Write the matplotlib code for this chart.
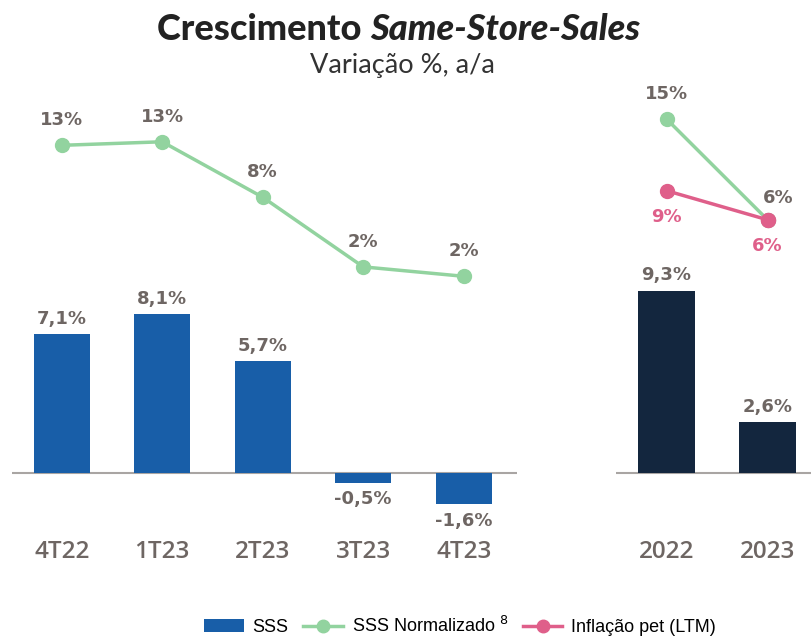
import matplotlib.pyplot as plt
from matplotlib.lines import Line2D
from matplotlib.patches import Patch

# Data
quarters = ["4T22", "1T23", "2T23", "3T23", "4T23"]
sss_q = [7.1, 8.1, 5.7, -0.5, -1.6]
sss_norm_q = [12.6, 12.9, 8.2, 2.3, 1.5]

years = ["2022", "2023"]
sss_y = [9.3, 2.6]
sss_norm_y = [15.0, 6.0]
infl_y = [8.6, 6.0]

BLUE = "#185ea8"
NAVY = "#13263e"
GREEN = "#92d39f"
PINK = "#df5f8a"
GRAY = "#6e6663"
AXIS = "#a9a5a3"

W, H = 811, 636
fig = plt.figure(figsize=(W / 100, H / 100), dpi=100)

def ax_rect(x0, x1, ytop, ybot):
    return [x0 / W, 1 - ybot / H, (x1 - x0) / W, (ybot - ytop) / H]

ytop, ybot = 80, 530
bar_scale = 19.6
base_y = 473
ylim_bar = (-(ybot - base_y) / bar_scale, (base_y - ytop) / bar_scale)

def style(ax):
    for s in ax.spines.values():
        s.set_visible(False)
    ax.set_yticks([])
    ax.tick_params(length=0)

TICK_KW = dict(fontsize=17.5, color=GRAY, fontweight="semibold", family="Open Sans")
LBL_KW = dict(fontsize=13, fontweight="bold")

# Left panel
axL = fig.add_axes(ax_rect(11.5, 517, ytop, ybot))
xq = list(range(len(quarters)))
axL.bar(xq, sss_q, width=0.56, color=BLUE, zorder=2)
axL.set_xlim(-0.5, 4.53)
axL.set_ylim(*ylim_bar)
axL.axhline(0, color=AXIS, lw=1.5, zorder=1)
style(axL)
axL.set_xticks(xq)
axL.set_xticklabels([])
for x, q in zip(xq, quarters):
    axL.annotate(q, (x, 0), xycoords=("data", "axes fraction"), xytext=(0, -16),
                 textcoords="offset points", ha="center", va="center", **TICK_KW)
for x, v in zip(xq, sss_q):
    off = 11 if v >= 0 else -12
    axL.annotate(f"{v:.1f}%".replace(".", ","), (x, v), xytext=(0, off),
                 textcoords="offset points", ha="center", va="center",
                 color=GRAY, **LBL_KW)

axL2 = axL.twinx()
z0, sc = 294, 11.8
axL2.set_ylim(-(ybot - z0) / sc, (z0 - ytop) / sc)
axL2.plot(xq, sss_norm_q, color=GREEN, lw=2.5, marker="o", ms=10, zorder=3)
style(axL2)
for x, v in zip(xq, sss_norm_q):
    axL2.annotate(f"{v:.0f}%", (x, v), xytext=(0, 18), textcoords="offset points",
                  ha="center", va="center", color=GRAY, **LBL_KW)

# Right panel
axR = fig.add_axes(ax_rect(616, 811, ytop, ybot))
xy = list(range(len(years)))
axR.bar(xy, sss_y, width=0.56, color=NAVY, zorder=2)
axR.set_xlim(-0.5, 1.43)
axR.set_ylim(*ylim_bar)
axR.axhline(0, color=AXIS, lw=1.5, zorder=1)
style(axR)
axR.set_xticks(xy)
axR.set_xticklabels([])
for x, q in zip(xy, years):
    axR.annotate(q, (x, 0), xycoords=("data", "axes fraction"), xytext=(0, -16),
                 textcoords="offset points", ha="center", va="center", **TICK_KW)
for x, v in zip(xy, sss_y):
    axR.annotate(f"{v:.1f}%".replace(".", ","), (x, v), xytext=(0, 11),
                 textcoords="offset points", ha="center", va="center",
                 color=GRAY, **LBL_KW)

axR2 = axR.twinx()
z0r, scr = 287, 11.2
axR2.set_ylim(-(ybot - z0r) / scr, (z0r - ytop) / scr)
axR2.plot(xy, infl_y, color=PINK, lw=2.5, marker="o", ms=10, zorder=3)
axR2.plot(xy, sss_norm_y, color=GREEN, lw=2.5, marker="o", ms=10, zorder=2)
axR2.plot(xy[1:], infl_y[1:], color=PINK, lw=0, marker="o", ms=10, zorder=4)
style(axR2)
axR2.annotate(f"{sss_norm_y[0]:.0f}%", (0, sss_norm_y[0]), xytext=(0, 18),
              textcoords="offset points", ha="center", va="center",
              color=GRAY, **LBL_KW)
axR2.annotate(f"{sss_norm_y[1]:.0f}%", (1, sss_norm_y[1]), xytext=(8, 16),
              textcoords="offset points", ha="center", va="center",
              color=GRAY, **LBL_KW)
for x, v in zip(xy, infl_y):
    axR2.annotate(f"{v:.0f}%", (x, v), xytext=(0, -19), textcoords="offset points",
                  ha="center", va="center", color=PINK, **LBL_KW)

# Titles
fig.text(370 / W, 1 - 29 / H, "Crescimento ", ha="right", va="center",
         fontsize=26, fontweight="black", color="#222222", family="Lato")
fig.text(370 / W, 1 - 29 / H, "Same-Store-Sales", ha="left", va="center",
         fontsize=26, fontweight="black", style="italic", color="#222222", family="Lato")
fig.text(402 / W, 1 - 65 / H, "Variação %, a/a", ha="center", va="center",
         fontsize=19.5, color="#333333", family="Lato")

# Legend
handles = [
    Patch(facecolor=BLUE),
    Line2D([0], [0], color=GREEN, lw=2.5, marker="o", ms=9),
    Line2D([0], [0], color=PINK, lw=2.5, marker="o", ms=9),
]
labels = ["SSS", "SSS Normalizado $^{8}$", "Inflação pet (LTM)"]
fig.legend(handles, labels, loc="center", bbox_to_anchor=(460 / W, 1 - 626 / H),
           ncol=3, frameon=False, handlelength=2.2, columnspacing=0.8,
           handletextpad=0.5, prop={"family": "Liberation Sans", "size": 13})

fig.savefig("out.png", dpi=100)
